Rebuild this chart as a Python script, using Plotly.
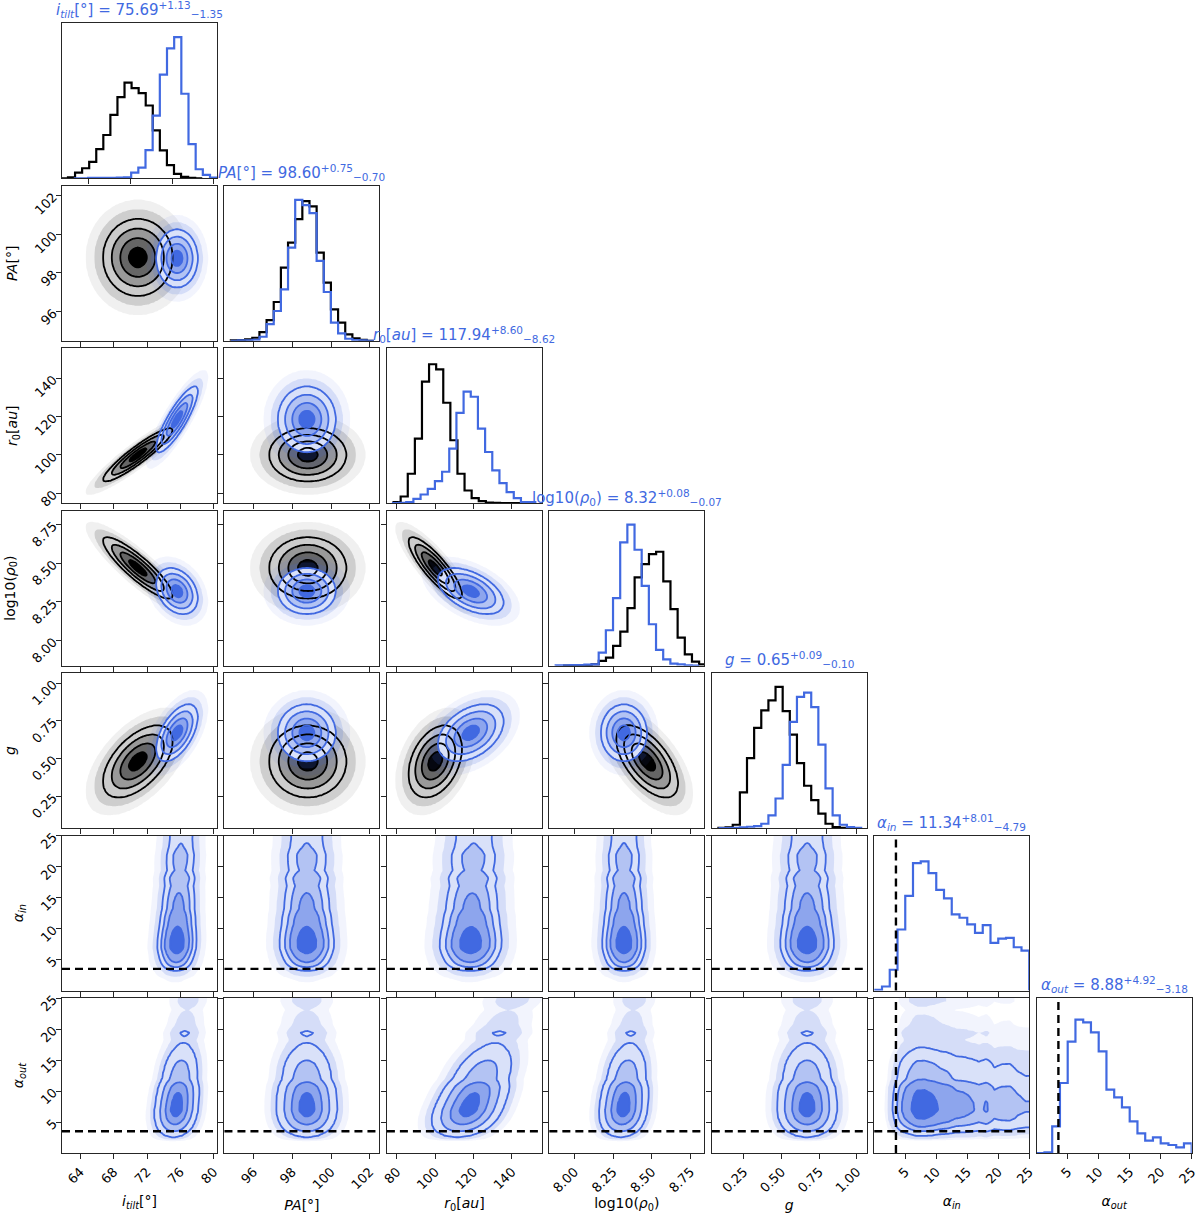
import numpy as np
import plotly.graph_objects as go

# ---- parameters / axes ----
AXIS_TITLES = ["<i>i</i><sub><i>tilt</i></sub>[°]", "<i>PA</i>[°]", "<i>r</i><sub>0</sub>[<i>au</i>]",
               "log10(<i>ρ</i><sub>0</sub>)", "<i>g</i>", "<i>α</i><sub><i>in</i></sub>",
               "<i>α</i><sub><i>out</i></sub>"]
RANGES = [[61.8, 80.4], [94.5, 102.5], [74.8, 155.6], [7.838, 8.84], [0.038, 1.066], [0.0, 25.0], [0.0, 25.0]]
TICKVALS = [[64, 68, 72, 76, 80], [96, 98, 100, 102], [80, 100, 120, 140], [8.0, 8.25, 8.5, 8.75],
            [0.25, 0.5, 0.75, 1.0], [5, 10, 15, 20, 25], [5, 10, 15, 20, 25]]
TICKTEXT = [["64", "68", "72", "76", "80"], ["96", "98", "100", "102"], ["80", "100", "120", "140"],
            ["8.00", "8.25", "8.50", "8.75"], ["0.25", "0.50", "0.75", "1.00"],
            ["5", "10", "15", "20", "25"], ["5", "10", "15", "20", "25"]]
DIAG_TICKVALS = [[65, 70, 75, 80], [96, 98, 100, 102], [80, 100, 120, 140], [8.0, 8.25, 8.5, 8.75],
                 [0.2, 0.4, 0.6, 0.8, 1.0], [5, 10, 15, 20, 25], [5, 10, 15, 20, 25]]

# ---- titles (blue run) ----
MEDIANS = ["75.69", "98.60", "117.94", "8.32", "0.65", "11.34", "8.88"]
ERR_UP = ["1.13", "0.75", "8.60", "0.08", "0.09", "8.01", "4.92"]
ERR_DN = ["1.35", "0.70", "8.62", "0.07", "0.10", "4.79", "3.18"]

ALPHA_PRIOR = 3.5

# ---- 1D histograms (20 bins, heights in arbitrary counts) ----
BLACK_HIST_START = [61.67, 94.83, 78.28, 7.926, 0.0822]
BLACK_HIST_WIDTH = [0.848, 0.369, 3.70, 0.04633, 0.04732]
BLACK_HIST = [
    [0, 3, 17, 30, 49, 87, 129, 189, 242, 285, 269, 254, 217, 143, 83, 39, 13, 4, 1, 0],
    [1, 2, 4, 9, 26, 62, 116, 219, 294, 364, 418, 402, 264, 174, 94, 54, 19, 7, 3, 0],
    [3, 20, 88, 193, 363, 415, 400, 300, 188, 88, 38, 15, 6, 2, 1, 0, 0, 0, 0, 0],
    [0, 0, 1, 1, 4, 14, 24, 59, 102, 172, 264, 304, 334, 341, 252, 169, 84, 34, 12, 4],
    [1, 2, 10, 106, 208, 298, 350, 380, 420, 348, 278, 193, 126, 83, 43, 13, 3, 1, 0, 0],
]
BLUE_HIST_START = [63.22, 94.83, 77.41, 7.879, 0.0822, 0.0, 0.0]
BLUE_HIST_WIDTH = [0.86, 0.369, 3.737, 0.04633, 0.04732, 1.25, 1.25]
BLUE_HIST = [
    [0, 0, 1, 1, 1, 1, 2, 3, 17, 32, 84, 187, 309, 387, 421, 252, 102, 27, 10, 2],
    [0, 1, 1, 3, 12, 50, 89, 154, 279, 422, 406, 382, 239, 146, 54, 22, 6, 2, 1, 0],
    [0, 1, 3, 13, 26, 43, 66, 94, 163, 270, 333, 318, 223, 153, 98, 60, 33, 15, 3, 3],
    [1, 1, 2, 2, 3, 4, 39, 106, 202, 369, 422, 347, 239, 124, 47, 19, 6, 4, 1, 0],
    [0, 0, 1, 2, 4, 6, 13, 38, 88, 188, 316, 390, 403, 360, 248, 118, 38, 10, 3, 1],
    [2, 12, 62, 182, 282, 380, 385, 350, 300, 275, 227, 217, 197, 172, 195, 142, 155, 157, 129, 119],
    [0, 2, 80, 210, 334, 400, 392, 362, 305, 190, 167, 137, 95, 59, 37, 47, 29, 24, 17, 29],
]
HIST_YMAX = [462, 464, 463, 464, 461, 462, 465]

# ---- 2D posteriors: centre, spread, correlation ----
BLACK_MU = [70.9, 98.8, 100.0, 8.47, 0.48]
BLACK_SIGMA = [2.1, 1.0, 7.0, 0.10, 0.12]
BLACK_RHO = [
    [1.0, 0.0, 0.92, -0.88, 0.55],
    [0.0, 1.0, 0.0, 0.0, 0.0],
    [0.92, 0.0, 1.0, -0.85, 0.35],
    [-0.88, 0.0, -0.85, 1.0, -0.6],
    [0.55, 0.0, 0.35, -0.6, 1.0],
]
BLUE_MU = [75.6, 98.75, 118.5, 8.32, 0.67]
BLUE_SIGMA = [1.25, 0.75, 8.6, 0.075, 0.095]
BLUE_RHO = [
    [1.0, 0.0, 0.85, -0.3, 0.55],
    [0.0, 1.0, 0.0, 0.0, 0.0],
    [0.85, 0.0, 1.0, -0.5, 0.4],
    [-0.3, 0.0, -0.5, 1.0, 0.0],
    [0.55, 0.0, 0.4, 0.0, 1.0],
]
# drift of the blue centre per unit alpha (alpha_in row, alpha_out row)
IN_SLOPE = [0.03, 0.0, 0.1, 0.0, 0.0]
OUT_SLOPE = [0.08, 0.0, 1.3, 0.004, 0.0]
ALPHA_PIVOT = 8.0

BLUE = "rgb(65,105,225)"
BLUE_FILL = ["rgba(65,105,225,0)", "rgba(65,105,225,0.07)", "rgba(65,105,225,0.16)",
             "rgb(217,225,249)", "rgb(179,195,243)", "rgb(141,165,237)", "rgb(65,105,225)"]
BLACK_FILL = ["rgba(0,0,0,0)", "rgba(0,0,0,0.06)", "rgba(0,0,0,0.14)",
              "rgb(204,204,204)", "rgb(153,153,153)", "rgb(102,102,102)", "rgb(0,0,0)"]
SIGMA_LEVELS = [0.5, 1.0, 1.5, 2.0, 2.5, 3.0]

N = 7
NG = 90


def gauss2(X, Y, mx, my, sx, sy, rho):
    u = (X - mx) / sx
    v = (Y - my) / sy
    return np.exp(-(u * u - 2 * rho * u * v + v * v) / (2 * (1 - rho * rho)))


def hist_density(k, vals):
    c = BLUE_HIST_START[k] + BLUE_HIST_WIDTH[k] * (np.arange(20) + 0.5)
    return np.interp(vals, c, BLUE_HIST[k])


def sigma_map(D):
    flat = np.sort(D.ravel())[::-1]
    cum = np.cumsum(flat)
    cum /= cum[-1]
    masses = 1 - np.exp(-0.5 * np.array(SIGMA_LEVELS) ** 2)
    thr = [flat[min(np.searchsorted(cum, m), flat.size - 1)] for m in masses]
    xp = np.array([0.0] + thr[::-1] + [flat[0] * 1.0001])
    xp = np.maximum.accumulate(xp + np.arange(len(xp)) * 1e-12)
    fp = [3.5] + SIGMA_LEVELS[::-1] + [0.0]
    return -np.interp(D, xp, fp)


def density(i, j, black):
    xg = np.linspace(RANGES[j][0], RANGES[j][1], NG)
    yg = np.linspace(RANGES[i][0], RANGES[i][1], NG)
    X, Y = np.meshgrid(xg, yg)
    if black:
        D = gauss2(X, Y, BLACK_MU[j], BLACK_MU[i], BLACK_SIGMA[j], BLACK_SIGMA[i], BLACK_RHO[j][i])
    elif i < 5:
        D = gauss2(X, Y, BLUE_MU[j], BLUE_MU[i], BLUE_SIGMA[j], BLUE_SIGMA[i], BLUE_RHO[j][i])
    elif j < 5:
        slope = IN_SLOPE[j] if i == 5 else OUT_SLOPE[j]
        mx = BLUE_MU[j] + slope * (Y - ALPHA_PIVOT)
        D = hist_density(i, Y) * np.exp(-0.5 * ((X - mx) / BLUE_SIGMA[j]) ** 2)
    else:
        D = hist_density(j, X) * hist_density(i, Y)
    return xg, yg, sigma_map(D)


def fill_scale(cols):
    return [[k / 6, c] for k, c in enumerate(cols)]


fig = go.Figure()

# panel geometry (pixels of the 1200x1213 page)
W, H = 1200, 1213
LEFT, TOP, SIZE, PITCH = 62.0, 23.3, 155.0, 162.45

panel = {}
n = 0
for i in range(N):
    for j in range(i + 1):
        n += 1
        panel[(i, j)] = n

common = dict(showgrid=False, zeroline=False, showline=True, mirror=True, linecolor="#262626",
              linewidth=1.2, ticks="outside", ticklen=5, tickwidth=1.2, tickcolor="#262626",
              tickfont=dict(size=13, color="black", family="DejaVu Sans"), automargin=False)

layout = {}
annotations = []
shapes = []
for (i, j), n in panel.items():
    sfx = "" if n == 1 else str(n)
    xa, ya = "x" + sfx, "y" + sfx
    x0 = (LEFT + j * PITCH) / W
    x1 = (LEFT + j * PITCH + SIZE) / W
    y1 = 1 - (TOP + i * PITCH) / H
    y0 = 1 - (TOP + i * PITCH + SIZE) / H

    xax = dict(common, domain=[x0, x1], range=RANGES[j], anchor=ya, showticklabels=(i == N - 1),
               tickangle=-45)
    yax = dict(common, domain=[y0, y1], anchor=xa, tickangle=-45)
    if i == j:
        xax["tickvals"] = DIAG_TICKVALS[j]
        yax.update(range=[0, HIST_YMAX[i]], showticklabels=False, ticks="")
    else:
        xax["tickvals"] = TICKVALS[j]
        yax.update(range=RANGES[i], tickvals=TICKVALS[i], ticktext=TICKTEXT[i],
                   showticklabels=(j == 0))
    if i == N - 1:
        xax["ticktext"] = TICKTEXT[j]
        xax["title"] = dict(text=AXIS_TITLES[j], font=dict(size=14, color="black"), standoff=10)
    if j == 0 and i > 0:
        yax["title"] = dict(text=AXIS_TITLES[i], font=dict(size=14, color="black"), standoff=10)
    layout["xaxis" + sfx] = xax
    layout["yaxis" + sfx] = yax

    if i == j:
        # diagonal histograms
        series = []
        if i < 5:
            series.append((BLACK_HIST_START[i], BLACK_HIST_WIDTH[i], BLACK_HIST[i], "black"))
        series.append((BLUE_HIST_START[i], BLUE_HIST_WIDTH[i], BLUE_HIST[i], BLUE))
        for start, width, counts, col in series:
            edges = start + width * np.arange(len(counts) + 1)
            hx = np.concatenate([[edges[0]], edges])
            hy = np.concatenate([[0], counts, [0]])
            fig.add_trace(go.Scatter(x=hx, y=hy, mode="lines", line=dict(color=col, width=2.2, shape="hv"),
                                     xaxis=xa, yaxis=ya, hoverinfo="skip", showlegend=False))
        annotations.append(dict(
            text=f"{AXIS_TITLES[i]} = {MEDIANS[i]}<sup>+{ERR_UP[i]}</sup><sub>−{ERR_DN[i]}</sub>",
            x=0.5, y=1.0, xref=xa + " domain", yref=ya + " domain", xanchor="center", yanchor="bottom",
            yshift=1, showarrow=False, font=dict(size=15, color=BLUE)))
        continue

    # 2D panels: fills first, then lines
    grids = []
    if i < 5:
        grids.append((density(i, j, True), BLACK_FILL, "black"))
    grids.append((density(i, j, False), BLUE_FILL, BLUE))
    for (xg, yg, Z), cols, _ in grids:
        fig.add_trace(go.Contour(x=xg, y=yg, z=Z, autocontour=False,
                                 contours=dict(start=-3.0, end=-0.5, size=0.5, coloring="fill", showlines=False),
                                 colorscale=fill_scale(cols), showscale=False, line=dict(width=0),
                                 xaxis=xa, yaxis=ya, hoverinfo="skip"))
    for (xg, yg, Z), _, lc in grids:
        fig.add_trace(go.Contour(x=xg, y=yg, z=Z, autocontour=False,
                                 contours=dict(start=-2.0, end=-0.5, size=0.5, coloring="none"),
                                 line=dict(color=lc, width=1.8), showscale=False,
                                 xaxis=xa, yaxis=ya, hoverinfo="skip"))

# prior limits on the alpha exponents
dash = dict(color="black", width=2.4, dash="8px,5px")
for (i, j), n in panel.items():
    sfx = "" if n == 1 else str(n)
    xa, ya = "x" + sfx, "y" + sfx
    if i >= 5 and i != j:
        shapes.append(dict(type="line", xref=xa + " domain", x0=0, x1=1, yref=ya,
                           y0=ALPHA_PRIOR, y1=ALPHA_PRIOR, line=dash))
    if j >= 5:
        shapes.append(dict(type="line", xref=xa, x0=ALPHA_PRIOR, x1=ALPHA_PRIOR, yref=ya + " domain",
                           y0=0, y1=1, line=dash))

fig.update_layout(**layout)
fig.update_layout(width=W, height=H, margin=dict(l=0, r=0, t=0, b=0), paper_bgcolor="white",
                  plot_bgcolor="white", showlegend=False, annotations=annotations, shapes=shapes,
                  font=dict(family="DejaVu Sans", color="black"))

# drop the browser's default page margin so the figure sits at the window origin
fig.write_html("out.html", config={"displayModeBar": False},
               post_script="document.body.style.margin='0';document.body.style.overflow='hidden';")
